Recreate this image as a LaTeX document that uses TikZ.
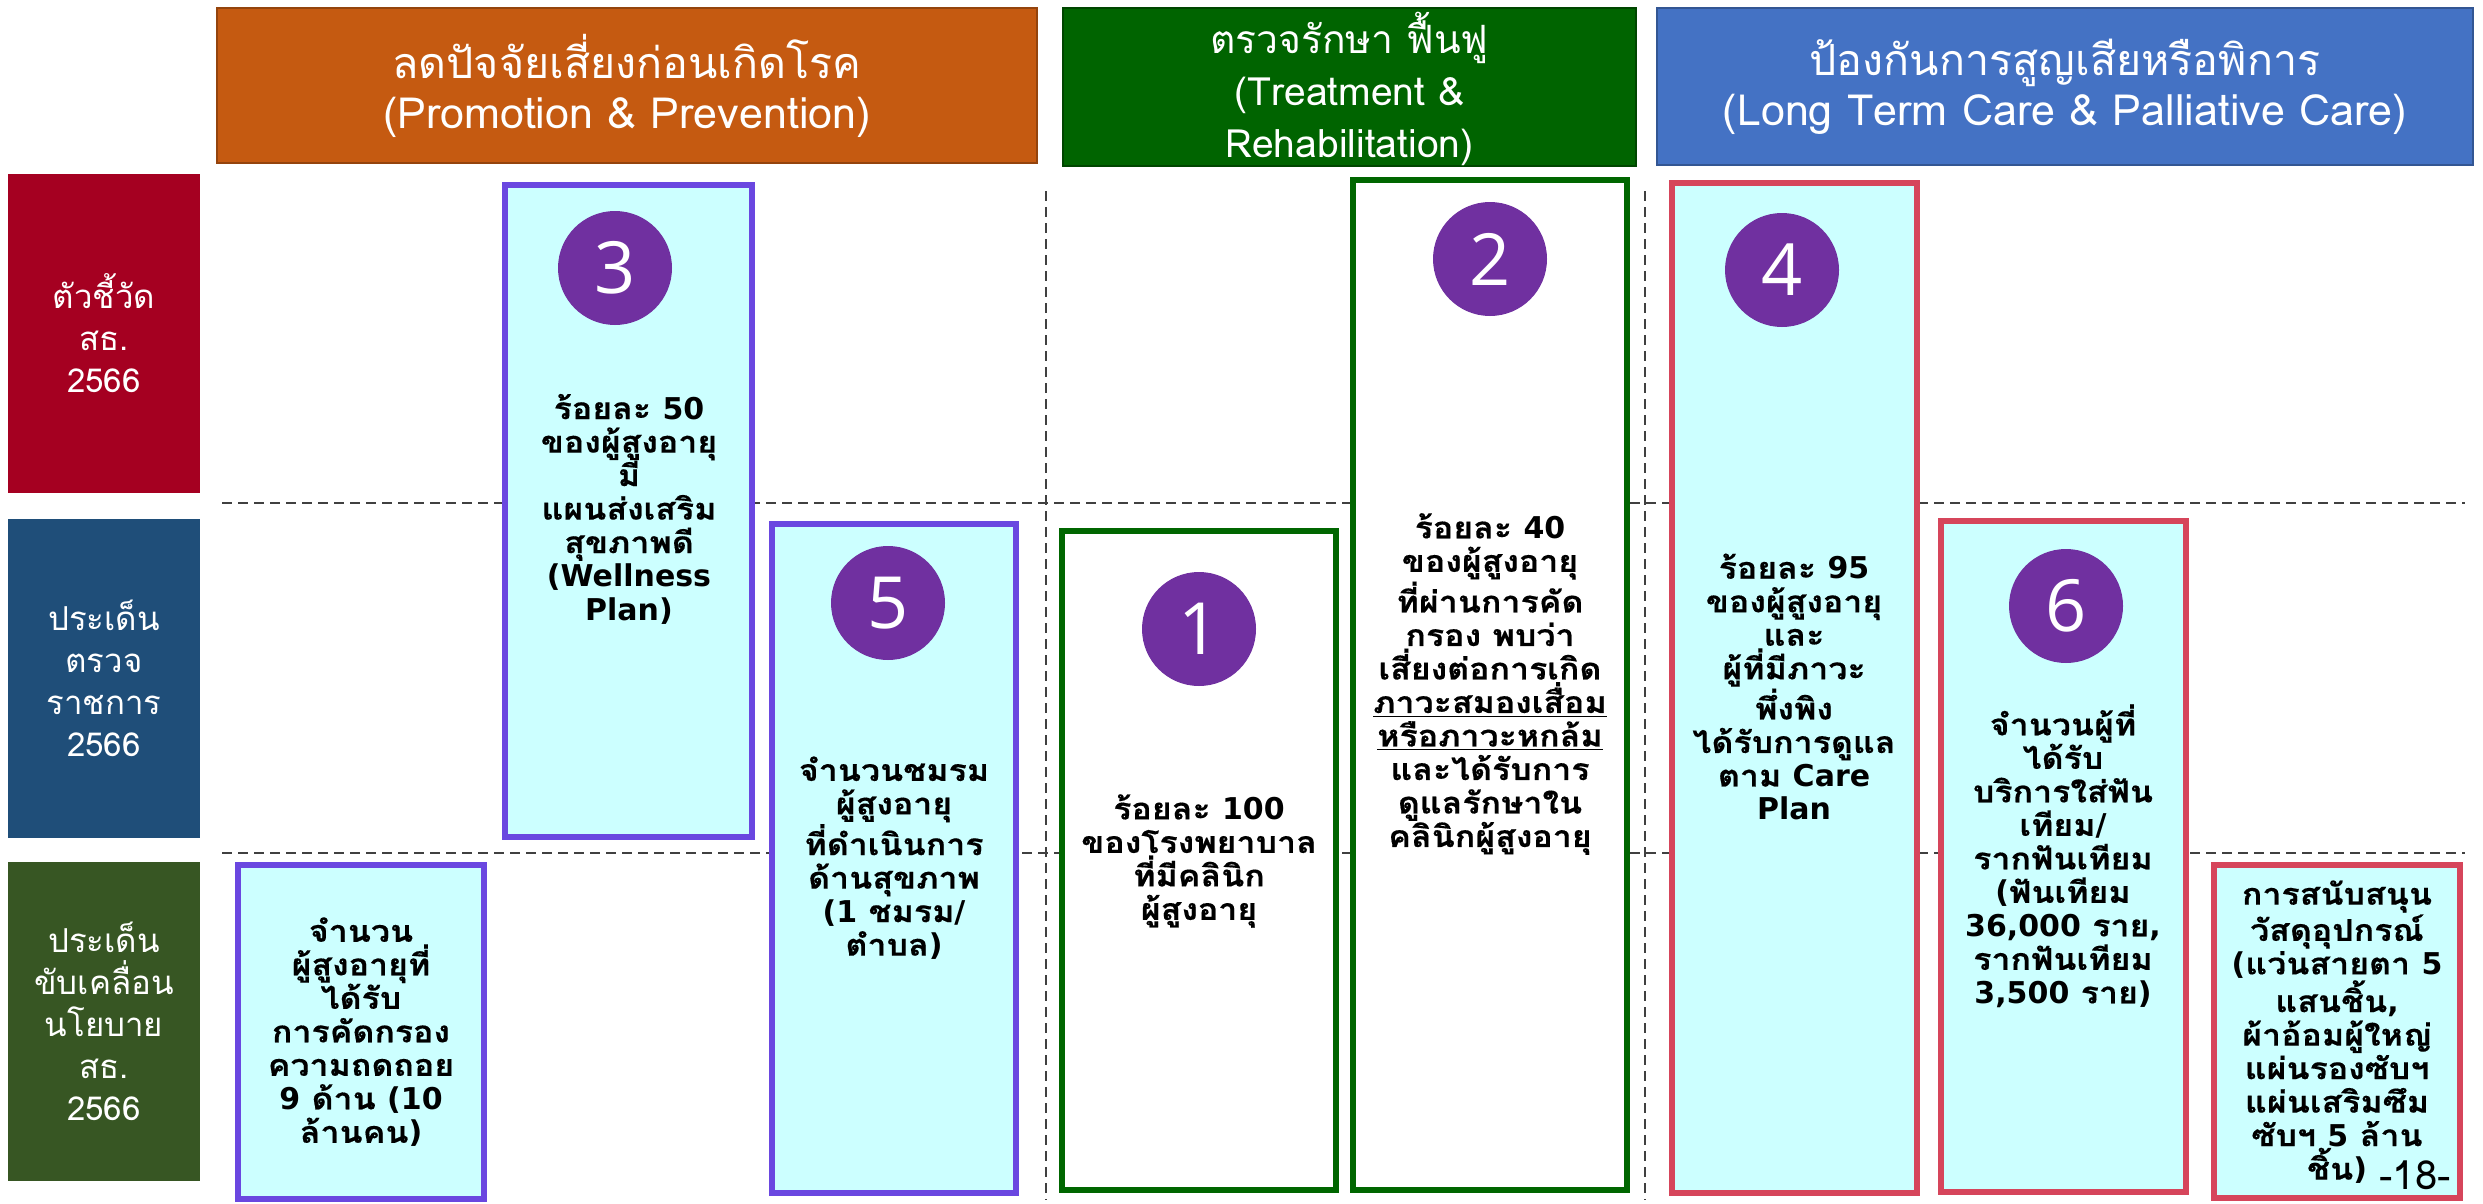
\documentclass[tikz,border=0pt]{standalone}
\usepackage{fontspec}
\setmainfont{Loma}[Script=Thai]
\newfontfamily\numfont{Open Sans}
\newfontfamily\latfont{DejaVu Sans}
\newcommand{\latn}[1]{{\latfont #1}}
\usetikzlibrary{fit}
\definecolor{hOrange}{HTML}{C55A11}
\definecolor{hGreen}{HTML}{006400}
\definecolor{hBlue}{HTML}{4472C4}
\definecolor{lRed}{HTML}{A50021}
\definecolor{lBlue}{HTML}{1F4E79}
\definecolor{lGreen}{HTML}{375623}
\definecolor{cCyan}{HTML}{CCFFFF}
\definecolor{bPurple}{HTML}{6A47E0}
\definecolor{bRed}{HTML}{D6455B}
\definecolor{bGreen}{HTML}{006600}
\definecolor{cPurple}{HTML}{7030A0}
\begin{document}
\begin{tikzpicture}[x=0.5pt,y=-0.5pt,
  hdrbox/.style={inner sep=0pt, line width=1pt},
  hdrtext/.style={inner sep=0pt, align=center, text=white, font=\fontsize{21.5}{25}\selectfont},
  lblbox/.style={inner sep=0pt, draw=none},
  lbltext/.style={inner sep=0pt, align=center, text=white, font=\fontsize{16.5}{21}\selectfont},
  dashline/.style={draw=black!75, line width=1pt, dash pattern=on 5pt off 3pt},
  purplebox/.style={inner sep=0pt, fill=cCyan, draw=bPurple, line width=3pt},
  redbox/.style={inner sep=0pt, fill=cCyan, draw=bRed, line width=3pt},
  greenbox/.style={inner sep=0pt, fill=white, draw=bGreen, line width=3pt},
  boxtext/.style={inner sep=0pt, align=center, text=black, font=\fontsize{15}{16.75}\selectfont\bfseries\addfontfeatures{FakeStretch=1.13,FakeBold=0.4}},
  numc/.style={circle, fill=cPurple, minimum size=57pt, inner sep=0pt, text=white, font=\numfont\fontsize{36}{36}\selectfont}
]
\useasboundingbox (0,0) rectangle (2483,1204);

% headers
\node[hdrbox, fill=hOrange, draw=hOrange!75!black, fit={(217,8)(1037,163)}] (hP) {};
\node[hdrtext] (hPt) at (hP.center) {ลดปัจจัยเสี่ยงก่อนเกิดโรค\\(Promotion \& Prevention)};
\node[hdrbox, fill=hGreen, draw=hGreen!70!black, fit={(1063,8)(1636,166)}] (hT) {};
\node[hdrtext, font=\fontsize{19.5}{26}\selectfont] (hTt) at ([yshift=-1pt]hT.center) {ตรวจรักษา ฟื้นฟู\\(Treatment \&\\Rehabilitation)};
\node[hdrbox, fill=hBlue, draw=hBlue!75!black, fit={(1657,8)(2473,165)}] (hL) {};
\node[hdrtext] (hLt) at (hL.center) {ป้องกันการสูญเสียหรือพิการ\\(Long Term Care \& Palliative Care)};

% row labels
\node[lblbox, fill=lRed, fit={(8,174)(200,493)}] (lA) {};
\node[lbltext] (lAt) at (lA.center) {ตัวชี้วัด\\สธ.\\2566};
\node[lblbox, fill=lBlue, fit={(8,519)(200,838)}] (lB) {};
\node[lbltext] (lBt) at (lB.center) {ประเด็น\\ตรวจ\\ราชการ\\2566};
\node[lblbox, fill=lGreen, fit={(8,862)(200,1181)}] (lC) {};
\node[lbltext] (lCt) at (lC.center) {ประเด็น\\ขับเคลื่อน\\นโยบาย\\สธ.\\2566};

% dashed grid
\coordinate (h1a) at (222,503); \coordinate (h1b) at (2465,503);
\coordinate (h2a) at (222,853); \coordinate (h2b) at (2465,853);
\coordinate (v1a) at (1046,191); \coordinate (v1b) at (1046,1200);
\coordinate (v2a) at (1645,191); \coordinate (v2b) at (1645,1200);
\draw[dashline] (h1a) -- (h1b);
\draw[dashline] (h2a) -- (h2b);
\draw[dashline] (v1a) -- (v1b);
\draw[dashline] (v2a) -- (v2b);

% boxes
\node[purplebox, fit={(505,185)(752,837)}] (b3) {};
\node[numc] (c3) at (615,268) {3};
\node[boxtext] (t3) at (629,509) {ร้อยละ \latn{50}\\ของผู้สูงอายุ\\มี\\แผนส่งเสริม\\สุขภาพดี\\\latn{(Wellness}\\\latn{Plan)}};

\node[purplebox, fit={(772,524)(1016,1193)}] (b5) {};
\node[numc] (c5) at (888,603) {5};
\node[boxtext] (t5) at (894,858) {จำนวนชมรม\\ผู้สูงอายุ\\ที่ดำเนินการ\\ด้านสุขภาพ\\\latn{(1} ชมรม\latn{/}\\ตำบล\latn{)}};

\node[greenbox, fit={(1062,531)(1336,1190)}] (b1) {};
\node[numc] (c1) at (1199,629) {1};
\node[boxtext] (t1) at (1199,861) {ร้อยละ \latn{100}\\ของโรงพยาบาล\\ที่มีคลินิก\\ผู้สูงอายุ};

\node[greenbox, fit={(1353,180)(1627,1190)}] (b2) {};
\node[numc] (c2) at (1490,259) {2};
\node[boxtext] (t2) at (1490,684) {ร้อยละ \latn{40}\\ของผู้สูงอายุ\\ที่ผ่านการคัด\\กรอง พบว่า\\เสี่ยงต่อการเกิด\\\underline{ภาวะสมองเสื่อม}\\\underline{หรือภาวะหกล้ม}\\และได้รับการ\\ดูแลรักษาใน\\คลินิกผู้สูงอายุ};

\node[redbox, fit={(1672,183)(1917,1193)}] (b4) {};
\node[numc] (c4) at (1782,270) {4};
\node[boxtext] (t4) at (1794,687) {ร้อยละ \latn{95}\\ของผู้สูงอายุ\\และ\\ผู้ที่มีภาวะ\\พึ่งพิง\\ได้รับการดูแล\\ตาม \latn{Care}\\\latn{Plan}};

\node[redbox, fit={(1941,521)(2186,1192)}] (b6) {};
\node[numc] (c6) at (2066,606) {6};
\node[boxtext] (t6) at (2063,856) {จำนวนผู้ที่\\ได้รับ\\บริการใส่ฟัน\\เทียม\latn{/}\\รากฟันเทียม\\\latn{(}ฟันเทียม\\\latn{36,000} ราย\latn{,}\\รากฟันเทียม\\\latn{3,500} ราย\latn{)}};

\node[purplebox, fit={(238,865)(484,1199)}] (bL) {};
\node[boxtext] (tL) at (361,1032) {จำนวน\\ผู้สูงอายุที่\\ได้รับ\\การคัดกรอง\\ความถดถอย\\\latn{9} ด้าน \latn{(10}\\ล้านคน\latn{)}};

\node[redbox, fit={(2214,865)(2460,1198)}] (bR) {};
\node[boxtext] (tR) at (2337,1032) {การสนับสนุน\\วัสดุอุปกรณ์\\\latn{(}แว่นสายตา \latn{5}\\แสนชิ้น\latn{,}\\ผ้าอ้อมผู้ใหญ่\\แผ่นรองซับฯ\\แผ่นเสริมซึม\\ซับฯ \latn{5} ล้าน\\ชิ้น\latn{)}};

\node[inner sep=0pt, font=\fontsize{20}{20}\selectfont] (pg) at (2415,1175) {-18-};
\end{tikzpicture}
\end{document}
